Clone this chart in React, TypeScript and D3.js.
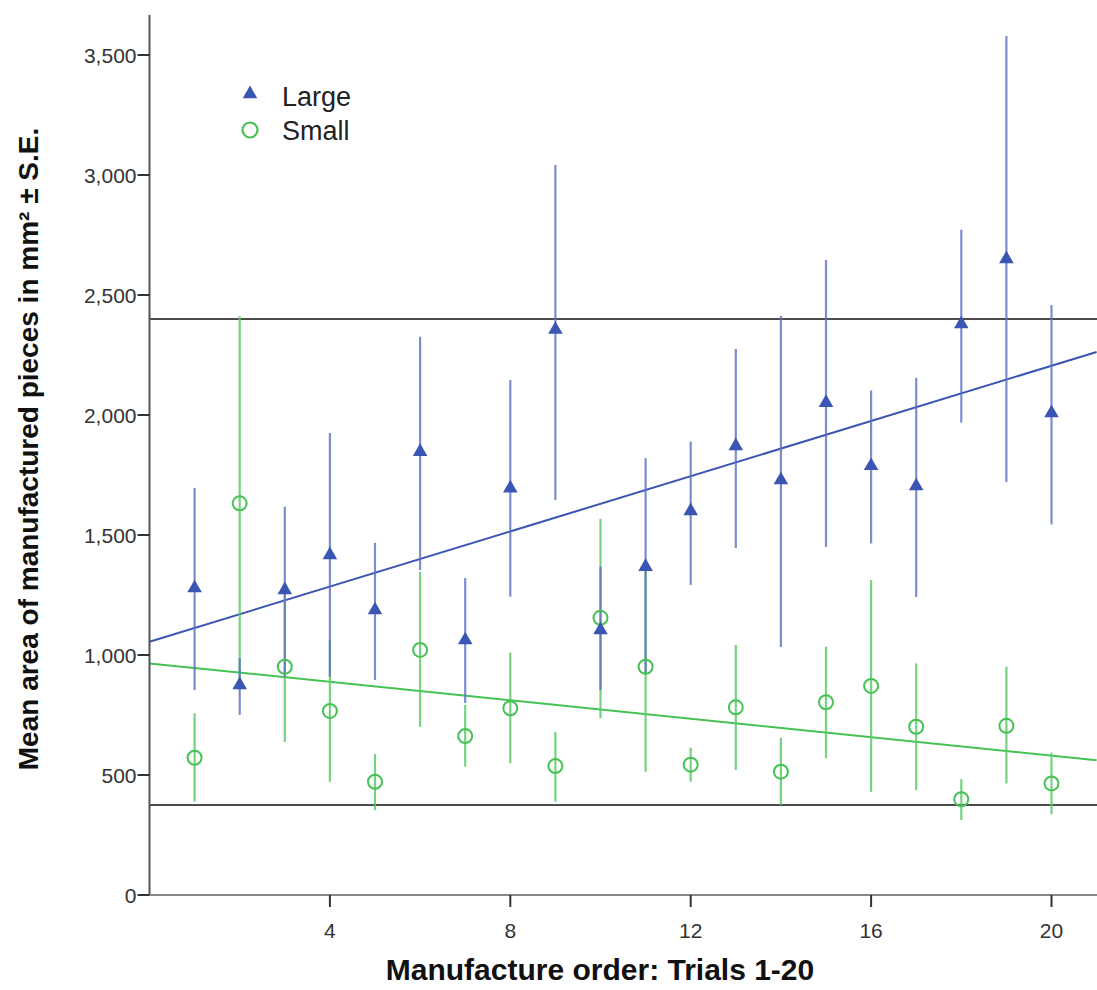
import React from "react";
import * as d3 from "d3";

const WIDTH = 1097;
const HEIGHT = 990;

// Manufacture order (trials)
const trials = [1, 2, 3, 4, 5, 6, 7, 8, 9, 10, 11, 12, 13, 14, 15, 16, 17, 18, 19, 20];

// Large pieces: mean and mean ± S.E.
const largeMean = [1279, 875, 1271, 1417, 1187, 1847, 1062, 1695, 2356, 1104, 1368, 1600, 1871, 1729, 2051, 1788, 1704, 2379, 2650, 2008];
const largeHigh = [1696, 987, 1618, 1925, 1467, 2326, 1321, 2146, 3042, 1368, 1821, 1889, 2275, 2413, 2646, 2102, 2155, 2772, 3579, 2458];
const largeLow = [854, 750, 908, 909, 896, 1354, 800, 1243, 1646, 854, 925, 1292, 1446, 1033, 1450, 1465, 1242, 1968, 1721, 1544];

// Small pieces: mean and mean ± S.E.
const smallMean = [572, 1632, 951, 767, 472, 1021, 662, 778, 537, 1155, 951, 543, 782, 514, 803, 871, 701, 399, 705, 465];
const smallHigh = [757, 2412, 1264, 1062, 587, 1347, 792, 1010, 680, 1567, 1380, 614, 1042, 655, 1035, 1312, 965, 483, 951, 593];
const smallLow = [389, 875, 638, 472, 354, 701, 535, 549, 389, 736, 514, 472, 521, 375, 570, 430, 437, 312, 465, 336];

// Linear fit lines (intercept, slope per trial)
const fitLarge = { intercept: 1055, slope: 57.5 };
const fitSmall = { intercept: 965, slope: -19.2 };

// Horizontal reference lines
const refLines = [2400, 375];

const xTicks = [4, 8, 12, 16, 20];
const yTicks = [0, 500, 1000, 1500, 2000, 2500, 3000, 3500];

const BLUE = "#3b55b3";
const BLUE_BAR = "#5a70c2";
const GREEN = "#45c253";
const GREEN_BAR = "#5bcb67";
const FONT = "'Liberation Sans', Arial, sans-serif";

const x = d3.scaleLinear().domain([0, 21]).range([149.5, 1096.6]);
const y = d3.scaleLinear().domain([0, 3666.7]).range([895, 15]);

const fmt = d3.format(",");
const triangle = d3.symbol().type(d3.symbolTriangle).size(92)();

export default function App() {
  const x0 = x.domain()[0];
  const x1 = x.domain()[1];
  const fitLine = (f: { intercept: number; slope: number }) =>
    d3.line<number>().x((d) => x(d)).y((d) => y(f.intercept + f.slope * d))([x0, x1]) || "";

  return (
    <div style={{ position: "absolute", left: 0, top: 0, background: "#fff" }}>
      <svg width={WIDTH} height={HEIGHT} style={{ display: "block", fontFamily: FONT }}>
        <rect width={WIDTH} height={HEIGHT} fill="#fff" />

        {/* reference lines */}
        {refLines.map((v) => (
          <line key={v} x1={x(x0)} x2={WIDTH} y1={y(v)} y2={y(v)} stroke="#111" strokeWidth={1.3} />
        ))}

        {/* fit lines */}
        <path d={fitLine(fitSmall)} fill="none" stroke={GREEN} strokeWidth={2} />
        <path d={fitLine(fitLarge)} fill="none" stroke={BLUE} strokeWidth={2} />

        {/* error bars */}
        {trials.map((t, i) => (
          <line key={"sb" + t} x1={x(t)} x2={x(t)} y1={y(smallLow[i])} y2={y(smallHigh[i])}
            stroke={GREEN_BAR} strokeWidth={2.2} strokeOpacity={0.85} />
        ))}
        {trials.map((t, i) => (
          <line key={"lb" + t} x1={x(t)} x2={x(t)} y1={y(largeLow[i])} y2={y(largeHigh[i])}
            stroke={BLUE_BAR} strokeWidth={2.2} strokeOpacity={0.8} />
        ))}

        {/* markers */}
        {trials.map((t, i) => (
          <circle key={"sm" + t} cx={x(t)} cy={y(smallMean[i])} r={7}
            fill="none" stroke={GREEN} strokeWidth={2} />
        ))}
        {trials.map((t, i) => (
          <path key={"lm" + t} d={triangle} transform={`translate(${x(t)},${y(largeMean[i])})`} fill={BLUE} />
        ))}

        {/* axes */}
        <line x1={x(x0)} x2={x(x0)} y1={y.range()[1]} y2={y(0)} stroke="#555" strokeWidth={2} />
        <line x1={x(x0)} x2={WIDTH} y1={y(0)} y2={y(0)} stroke="#888" strokeWidth={2} />
        {yTicks.map((v) => (
          <g key={"yt" + v}>
            <line x1={x(x0) - 12} x2={x(x0)} y1={y(v)} y2={y(v)} stroke="#333" strokeWidth={2} />
            <text x={x(x0) - 13} y={y(v)} dy="0.36em" textAnchor="end" fontSize={21} fill="#333">
              {fmt(v)}
            </text>
          </g>
        ))}
        {xTicks.map((v) => (
          <g key={"xt" + v}>
            <line x1={x(v)} x2={x(v)} y1={y(0)} y2={y(0) + 12} stroke="#333" strokeWidth={2} />
            <text x={x(v)} y={y(0) + 43} textAnchor="middle" fontSize={21} fill="#333">
              {v}
            </text>
          </g>
        ))}

        {/* axis titles */}
        <text x={600} y={980} textAnchor="middle" fontSize={30} fontWeight="bold" fill="#111">
          Manufacture order: Trials 1-20
        </text>
        <text transform="translate(38,449) rotate(-90)" textAnchor="middle" fontSize={28} fontWeight="bold" fill="#111">
          Mean area of manufactured pieces in mm² ± S.E.
        </text>

        {/* legend */}
        <g transform="translate(250,94)">
          <path d={triangle} fill={BLUE} />
          <text x={32} y={3} dy="0.35em" fontSize={27} fill="#222">Large</text>
        </g>
        <g transform="translate(250,130)">
          <circle r={7.5} fill="none" stroke={GREEN} strokeWidth={2.2} />
          <text x={32} y={1} dy="0.35em" fontSize={27} fill="#222">Small</text>
        </g>
      </svg>
    </div>
  );
}
